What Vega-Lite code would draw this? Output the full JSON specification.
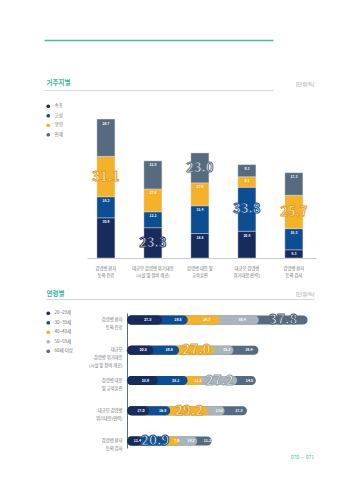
{
  "$schema": "https://vega.github.io/schema/vega-lite/v6.json",
  "padding": {"left": 46, "top": 38, "right": 10, "bottom": 5},
  "bounds": "flush",
  "spacing": 41,
  "background": "white",
  "resolve": {"scale": {"color": "independent", "stroke": "independent"}},
  "config": {
    "view": {"stroke": null},
    "font": "Noto Sans CJK KR",
    "text": {"font": "Noto Sans CJK KR"},
    "axis": {"labelFont": "Noto Sans CJK KR"},
    "legend": {"labelFont": "Noto Sans CJK KR"}
  },
  "title": {"text": "070 — 071", "orient": "bottom", "anchor": "end", "fontSize": 5, "fontWeight": "normal", "color": "#3fbf9c", "offset": 4},
  "datasets": {
    "regions": [
      {"category": "감염병 환자\n등의 진료", "region": "속초", "value": 30.9},
      {"category": "감염병 환자\n등의 진료", "region": "고성", "value": 16.2},
      {"category": "감염병 환자\n등의 진료", "region": "양양", "value": 31.1},
      {"category": "감염병 환자\n등의 진료", "region": "인제", "value": 28.7},
      {"category": "대규모 감염병 위기대응\n(시설 및 장비 제공)", "region": "속초", "value": 23.3},
      {"category": "대규모 감염병 위기대응\n(시설 및 장비 제공)", "region": "고성", "value": 12.2},
      {"category": "대규모 감염병 위기대응\n(시설 및 장비 제공)", "region": "양양", "value": 17.6},
      {"category": "대규모 감염병 위기대응\n(시설 및 장비 제공)", "region": "인제", "value": 21.6},
      {"category": "감염병 대응 및\n교육훈련", "region": "속초", "value": 18.8},
      {"category": "감염병 대응 및\n교육훈련", "region": "고성", "value": 21.4},
      {"category": "감염병 대응 및\n교육훈련", "region": "양양", "value": 17.6},
      {"category": "감염병 대응 및\n교육훈련", "region": "인제", "value": 23.0},
      {"category": "대규모 감염병\n위기대응(인력)", "region": "속초", "value": 20.6},
      {"category": "대규모 감염병\n위기대응(인력)", "region": "고성", "value": 33.8},
      {"category": "대규모 감염병\n위기대응(인력)", "region": "양양", "value": 8.1},
      {"category": "대규모 감염병\n위기대응(인력)", "region": "인제", "value": 9.3},
      {"category": "감염병 환자\n등의 검사", "region": "속초", "value": 6.3},
      {"category": "감염병 환자\n등의 검사", "region": "고성", "value": 16.3},
      {"category": "감염병 환자\n등의 검사", "region": "양양", "value": 25.7},
      {"category": "감염병 환자\n등의 검사", "region": "인제", "value": 17.3}
    ],
    "ages": [
      {"category": "감염병 환자\n등의 진료", "age": "20~29세", "value": 27.3},
      {"category": "감염병 환자\n등의 진료", "age": "30~39세", "value": 19.8},
      {"category": "감염병 환자\n등의 진료", "age": "40~49세", "value": 24.7},
      {"category": "감염병 환자\n등의 진료", "age": "50~59세", "value": 30.4},
      {"category": "감염병 환자\n등의 진료", "age": "60세 이상", "value": 37.8},
      {"category": "대규모\n감염병 위기대응\n(시설 및 장비 제공)", "age": "20~29세", "value": 20.5},
      {"category": "대규모\n감염병 위기대응\n(시설 및 장비 제공)", "age": "30~39세", "value": 19.8},
      {"category": "대규모\n감염병 위기대응\n(시설 및 장비 제공)", "age": "40~49세", "value": 27.0},
      {"category": "대규모\n감염병 위기대응\n(시설 및 장비 제공)", "age": "50~59세", "value": 15.2},
      {"category": "대규모\n감염병 위기대응\n(시설 및 장비 제공)", "age": "60세 이상", "value": 19.4},
      {"category": "감염병 대응\n및 교육훈련", "age": "20~29세", "value": 23.9},
      {"category": "감염병 대응\n및 교육훈련", "age": "30~39세", "value": 23.1},
      {"category": "감염병 대응\n및 교육훈련", "age": "40~49세", "value": 11.2},
      {"category": "감염병 대응\n및 교육훈련", "age": "50~59세", "value": 27.2},
      {"category": "감염병 대응\n및 교육훈련", "age": "60세 이상", "value": 14.5},
      {"category": "대규모 감염병\n위기대응(인력)", "age": "20~29세", "value": 17.0},
      {"category": "대규모 감염병\n위기대응(인력)", "age": "30~39세", "value": 16.5},
      {"category": "대규모 감염병\n위기대응(인력)", "age": "40~49세", "value": 29.2},
      {"category": "대규모 감염병\n위기대응(인력)", "age": "50~59세", "value": 13.0},
      {"category": "대규모 감염병\n위기대응(인력)", "age": "60세 이상", "value": 17.3},
      {"category": "감염병 환자\n등의 검사", "age": "20~29세", "value": 11.4},
      {"category": "감염병 환자\n등의 검사", "age": "30~39세", "value": 20.9},
      {"category": "감염병 환자\n등의 검사", "age": "40~49세", "value": 7.9},
      {"category": "감염병 환자\n등의 검사", "age": "50~59세", "value": 14.2},
      {"category": "감염병 환자\n등의 검사", "age": "60세 이상", "value": 11.2}
    ]
  },
  "vconcat": [
    {
      "width": 268,
      "height": 218,
      "data": {"name": "regions"},
      "transform": [
        {"calculate": "indexof(['속초','고성','양양','인제'], datum.region)", "as": "ord"},
        {"stack": "value", "groupby": ["category"], "sort": [{"field": "ord", "order": "ascending"}], "as": ["v0", "v1"]},
        {"calculate": "(datum.v0 + datum.v1) / 2", "as": "vmid"},
        {"joinaggregate": [{"op": "max", "field": "value", "as": "vmax"}], "groupby": ["category"]}
      ],
      "encoding": {
        "x": {
          "field": "category", "type": "nominal", "sort": null,
          "scale": {"range": [41, 270], "paddingInner": 0.617, "paddingOuter": 0.245, "align": 0.43},
          "axis": {
            "title": null, "domainColor": "#c9cdd2", "domainWidth": 1, "ticks": false,
            "labelExpr": "split(datum.label, '\\n')", "labelFontSize": 4.3, "labelLineHeight": 7,
            "labelColor": "#6b6e72", "labelPadding": 8, "labelAngle": 0
          }
        }
      },
      "layer": [
        {
          "mark": {"type": "bar", "stroke": "#e3e7ec", "strokeWidth": 0.4},
          "encoding": {
            "y": {
              "field": "v0", "type": "quantitative",
              "scale": {"domain": [0, 167.69], "nice": false, "zero": false},
              "axis": {
                "orient": "right", "values": [129.23, 167.69, 134.5, 134.7], "title": null,
                "domain": false, "ticks": false, "tickSize": 0, "grid": true,
                "gridColor": {"condition": {"test": "datum.value == 167.69", "value": "#45bf9b"}, "value": "#d6d9dc"},
                "gridWidth": {"condition": {"test": "datum.value == 167.69", "value": 1.5}, "value": 1},
                "gridOpacity": {"condition": {"test": "datum.value == 134.5 || datum.value == 134.7", "value": 0}, "value": 1},
                "labelExpr": "datum.value == 134.5 ? '[단위:%]' : datum.value == 134.7 ? '거주지별' : ''",
                "labelAlign": {"condition": {"test": "datum.value == 134.7", "value": "left"}, "value": "right"},
                "labelPadding": {"condition": {"test": "datum.value == 134.7", "value": -268}, "value": 0},
                "labelColor": {"condition": {"test": "datum.value == 134.7", "value": "#3cb89a"}, "value": "#8d9297"},
                "labelFontSize": {"condition": {"test": "datum.value == 134.7", "value": 6.5}, "value": 5},
                "labelFontWeight": {"condition": {"test": "datum.value == 134.7", "value": "bold"}, "value": "normal"},
                "labelOverlap": false, "labelBaseline": "middle"
              }
            },
            "y2": {"field": "v1"},
            "color": {
              "field": "region", "type": "nominal",
              "scale": {"domain": ["속초", "고성", "양양", "인제"], "range": ["#172b5c", "#0d4e92", "#f4b12a", "#566a80"]},
              "legend": {
                "title": null, "orient": "none", "legendX": 0, "legendY": 64,
                "symbolType": "circle", "symbolSize": 14, "symbolStrokeWidth": 0,
                "labelFontSize": 4.5, "labelColor": "#6b6e72", "rowPadding": 3.5, "labelOffset": 4
              }
            }
          }
        },
        {
          "transform": [{"filter": "datum.value < datum.vmax"}],
          "mark": {"type": "text", "fontSize": 3.3, "fontWeight": "bold", "fill": "#ffffff", "dy": 4.5},
          "encoding": {
            "y": {
              "field": "v1", "type": "quantitative",
              "axis": {
                "orient": "right", "values": [129.23, 167.69, 134.5, 134.7], "title": null,
                "domain": false, "ticks": false, "tickSize": 0, "grid": true,
                "gridColor": {"condition": {"test": "datum.value == 167.69", "value": "#45bf9b"}, "value": "#d6d9dc"},
                "gridWidth": {"condition": {"test": "datum.value == 167.69", "value": 1.5}, "value": 1},
                "gridOpacity": {"condition": {"test": "datum.value == 134.5 || datum.value == 134.7", "value": 0}, "value": 1},
                "labelExpr": "datum.value == 134.5 ? '[단위:%]' : datum.value == 134.7 ? '거주지별' : ''",
                "labelAlign": {"condition": {"test": "datum.value == 134.7", "value": "left"}, "value": "right"},
                "labelPadding": {"condition": {"test": "datum.value == 134.7", "value": -268}, "value": 0},
                "labelColor": {"condition": {"test": "datum.value == 134.7", "value": "#3cb89a"}, "value": "#8d9297"},
                "labelFontSize": {"condition": {"test": "datum.value == 134.7", "value": 6.5}, "value": 5},
                "labelFontWeight": {"condition": {"test": "datum.value == 134.7", "value": "bold"}, "value": "normal"},
                "labelOverlap": false, "labelBaseline": "middle"
              }
            },
            "text": {"field": "value", "type": "quantitative", "format": ".1f"}
          }
        },
        {
          "transform": [{"filter": "datum.value == datum.vmax"}],
          "mark": {"type": "text", "fontSize": 13, "fontWeight": "bold", "fill": "#ffffff", "strokeWidth": 0.9},
          "encoding": {
            "y": {
              "field": "vmid", "type": "quantitative",
              "axis": {
                "orient": "right", "values": [129.23, 167.69, 134.5, 134.7], "title": null,
                "domain": false, "ticks": false, "tickSize": 0, "grid": true,
                "gridColor": {"condition": {"test": "datum.value == 167.69", "value": "#45bf9b"}, "value": "#d6d9dc"},
                "gridWidth": {"condition": {"test": "datum.value == 167.69", "value": 1.5}, "value": 1},
                "gridOpacity": {"condition": {"test": "datum.value == 134.5 || datum.value == 134.7", "value": 0}, "value": 1},
                "labelExpr": "datum.value == 134.5 ? '[단위:%]' : datum.value == 134.7 ? '거주지별' : ''",
                "labelAlign": {"condition": {"test": "datum.value == 134.7", "value": "left"}, "value": "right"},
                "labelPadding": {"condition": {"test": "datum.value == 134.7", "value": -268}, "value": 0},
                "labelColor": {"condition": {"test": "datum.value == 134.7", "value": "#3cb89a"}, "value": "#8d9297"},
                "labelFontSize": {"condition": {"test": "datum.value == 134.7", "value": 6.5}, "value": 5},
                "labelFontWeight": {"condition": {"test": "datum.value == 134.7", "value": "bold"}, "value": "normal"},
                "labelOverlap": false, "labelBaseline": "middle"
              }
            },
            "text": {"field": "value", "type": "quantitative", "format": ".1f"},
            "stroke": {
              "field": "region", "type": "nominal",
              "scale": {"domain": ["속초", "고성", "양양", "인제"], "range": ["#172b5c", "#0d4e92", "#d99a1a", "#566a80"]},
              "legend": null
            }
          }
        }
      ]
    },
    {
      "width": 268,
      "height": 152,
      "data": {"name": "ages"},
      "transform": [
        {"calculate": "indexof(['20~29세','30~39세','40~49세','50~59세','60세 이상'], datum.age)", "as": "ord"},
        {"stack": "value", "groupby": ["category"], "sort": [{"field": "ord", "order": "ascending"}], "as": ["x0", "x1"]},
        {"calculate": "(datum.x0 + datum.x1) / 2", "as": "xmid"},
        {"joinaggregate": [{"op": "max", "field": "value", "as": "vmax"}], "groupby": ["category"]}
      ],
      "encoding": {
        "y": {
          "field": "category", "type": "nominal", "sort": null,
          "scale": {"range": [14, 149], "paddingInner": 0.7025, "paddingOuter": 0.0826},
          "axis": {
            "title": null, "orient": "left", "offset": -81, "domainColor": "#5d6b7a", "domainWidth": 1,
            "ticks": false, "labelExpr": "split(datum.label, '\\n')", "labelFontSize": 4.3,
            "labelLineHeight": 8, "labelColor": "#6b6e72", "labelPadding": 5
          }
        }
      },
      "layer": [
        {
          "mark": {"type": "bar", "cornerRadiusEnd": 4.5},
          "encoding": {
            "x": {
              "field": "x1", "type": "quantitative",
              "scale": {"domain": [-62.79, 144.96], "nice": false, "zero": false},
              "axis": {
                "orient": "top", "values": [144.96, -62.79], "title": null, "grid": false,
                "ticks": false, "domainColor": "#d6d9dc", "domainWidth": 1,
                "labelExpr": "datum.value > 0 ? '[단위:%]' : '연령별'",
                "labelAlign": {"condition": {"test": "datum.value < 0", "value": "left"}, "value": "right"},
                "labelColor": {"condition": {"test": "datum.value < 0", "value": "#3cb89a"}, "value": "#8d9297"},
                "labelFontSize": {"condition": {"test": "datum.value < 0", "value": 6.5}, "value": 5},
                "labelFontWeight": {"condition": {"test": "datum.value < 0", "value": "bold"}, "value": "normal"},
                "labelPadding": 3, "labelOverlap": false, "labelFlush": false
              }
            },
            "x2": {"datum": 0},
            "color": {
              "field": "age", "type": "nominal",
              "scale": {"domain": ["20~29세", "30~39세", "40~49세", "50~59세", "60세 이상"], "range": ["#172b5c", "#0d4e92", "#f4b12a", "#a9b4bb", "#566a80"]},
              "legend": {
                "title": null, "orient": "none", "legendX": 0, "legendY": 12,
                "symbolType": "circle", "symbolSize": 14, "symbolStrokeWidth": 0,
                "labelFontSize": 4.5, "labelColor": "#6b6e72", "rowPadding": 3.5, "labelOffset": 4
              }
            },
            "order": {"field": "ord", "sort": "descending"}
          }
        },
        {
          "transform": [{"filter": "datum.value < datum.vmax"}],
          "mark": {"type": "text", "fontSize": 3.5, "fontWeight": "bold", "fill": "#ffffff", "dx": 3},
          "encoding": {
            "x": {
              "field": "xmid", "type": "quantitative",
              "axis": {
                "orient": "top", "values": [144.96, -62.79], "title": null, "grid": false,
                "ticks": false, "domainColor": "#d6d9dc", "domainWidth": 1,
                "labelExpr": "datum.value > 0 ? '[단위:%]' : '연령별'",
                "labelAlign": {"condition": {"test": "datum.value < 0", "value": "left"}, "value": "right"},
                "labelColor": {"condition": {"test": "datum.value < 0", "value": "#3cb89a"}, "value": "#8d9297"},
                "labelFontSize": {"condition": {"test": "datum.value < 0", "value": 6.5}, "value": 5},
                "labelFontWeight": {"condition": {"test": "datum.value < 0", "value": "bold"}, "value": "normal"},
                "labelPadding": 3, "labelOverlap": false, "labelFlush": false
              }
            },
            "text": {"field": "value", "type": "quantitative", "format": ".1f"}
          }
        },
        {
          "transform": [{"filter": "datum.value == datum.vmax"}],
          "mark": {"type": "text", "fontSize": 13.5, "fontWeight": "bold", "fill": "#ffffff", "strokeWidth": 0.9},
          "encoding": {
            "x": {
              "field": "xmid", "type": "quantitative",
              "axis": {
                "orient": "top", "values": [144.96, -62.79], "title": null, "grid": false,
                "ticks": false, "domainColor": "#d6d9dc", "domainWidth": 1,
                "labelExpr": "datum.value > 0 ? '[단위:%]' : '연령별'",
                "labelAlign": {"condition": {"test": "datum.value < 0", "value": "left"}, "value": "right"},
                "labelColor": {"condition": {"test": "datum.value < 0", "value": "#3cb89a"}, "value": "#8d9297"},
                "labelFontSize": {"condition": {"test": "datum.value < 0", "value": 6.5}, "value": 5},
                "labelFontWeight": {"condition": {"test": "datum.value < 0", "value": "bold"}, "value": "normal"},
                "labelPadding": 3, "labelOverlap": false, "labelFlush": false
              }
            },
            "text": {"field": "value", "type": "quantitative", "format": ".1f"},
            "stroke": {
              "field": "age", "type": "nominal",
              "scale": {"domain": ["20~29세", "30~39세", "40~49세", "50~59세", "60세 이상"], "range": ["#172b5c", "#0d4e92", "#d99a1a", "#8f9aa1", "#455a70"]},
              "legend": null
            }
          }
        }
      ]
    }
  ]
}
